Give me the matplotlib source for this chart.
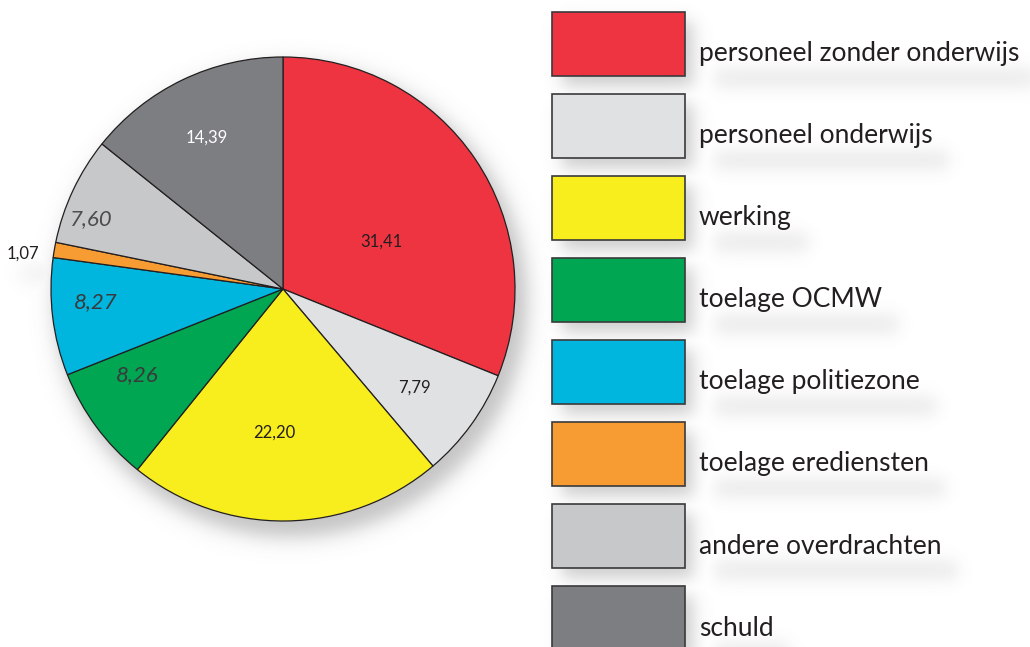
import matplotlib
matplotlib.use("Agg")
import matplotlib.pyplot as plt
import numpy as np
from matplotlib.patches import Rectangle

# data
categories = [
    "personeel zonder onderwijs",
    "personeel onderwijs",
    "werking",
    "toelage OCMW",
    "toelage politiezone",
    "toelage erediensten",
    "andere overdrachten",
    "schuld",
]
values = [31.41, 7.79, 22.20, 8.26, 8.27, 1.07, 7.60, 14.39]
value_labels = ["31,41", "7,79", "22,20", "8,26", "8,27", "1,07", "7,60", "14,39"]
colors = ["#EE3440", "#E0E1E3", "#F8EE1E", "#00A651", "#00B6DF",
          "#F69C33", "#C7C8CA", "#7D7E82"]

# label styling per slice (distance as fraction of radius, angle tweak in deg)
label_dist = [0.47, 0.71, 0.62, 0.73, 0.81, 1.13, 0.88, 0.73]
label_dangle = [-8, -1, -4, -6, -3, 2, 5, 1]
label_color = ["#231F20", "#231F20", "#231F20", "#3A3A3C", "#3A3A3C",
               "#231F20", "#4D4D4F", "white"]
label_style = ["normal", "normal", "normal", "italic", "italic",
               "normal", "italic", "normal"]
label_size = [12, 12, 12, 16, 16, 12, 16, 12]

W, H = 1030, 647
fig = plt.figure(figsize=(W / 100, H / 100), dpi=100)
ax = fig.add_axes([0, 0, 1, 1])

cx, cy, r = 283, H - 289, 232

wedges, _ = ax.pie(values, colors=colors, startangle=90, counterclock=False,
                   radius=r, center=(cx, cy),
                   wedgeprops=dict(edgecolor="#231F20", linewidth=0.9))
for w in wedges:
    w.set_zorder(2)

value_texts = []
for w, lab, d, da, c, st, fs in zip(wedges, value_labels, label_dist, label_dangle,
                                    label_color, label_style, label_size):
    ang = np.deg2rad((w.theta1 + w.theta2) / 2 + da)
    x = cx + np.cos(ang) * r * d
    y = cy + np.sin(ang) * r * d
    value_texts.append(ax.text(x, y, lab, ha="center", va="center", color=c,
                               fontsize=fs, fontstyle=st, family="Lato", zorder=3))

# legend boxes and labels
box_x, box_w, box_h = 552, 133, 64
top0, step = 12, 82
legend_texts = []
for i, (name, col) in enumerate(zip(categories, colors)):
    top = top0 + i * step
    y0 = H - top - box_h
    ax.add_patch(Rectangle((box_x, y0), box_w, box_h, facecolor=col,
                           edgecolor="#3A3A3C", linewidth=1.2, zorder=2))
    t = ax.text(699, H - top - 42, name, ha="left", va="center", fontsize=19,
                family="Lato", color="#231F20", zorder=3)
    legend_texts.append(t)

ax.set_xlim(0, W)
ax.set_ylim(0, H)
ax.set_aspect("equal")
ax.axis("off")

# soft drop shadows, built as one alpha image over the canvas
fig.canvas.draw()
yy, xx = np.mgrid[0:H, 0:W] + 0.5


def soft(v, s):
    return 1.0 / (1.0 + np.exp(-v / s))


def soft_box(x0, x1, y0, y1, s):
    return (soft(xx - x0, s) * soft(x1 - xx, s) *
            soft(yy - y0, s) * soft(y1 - yy, s))


shadow = np.zeros((H, W))
dist = np.hypot(xx - (cx + 8), yy - (cy - 12))
shadow = np.maximum(shadow, 0.36 * soft(r + 4 - dist, 6))
for i in range(len(categories)):
    top = top0 + i * step
    y0 = H - top - box_h
    shadow = np.maximum(shadow, 0.30 * soft_box(box_x + 10, box_x + box_w + 8,
                                                y0 - 10, y0 + box_h - 10, 5))
for t in legend_texts:
    bb = t.get_window_extent()
    mid = (bb.y0 + bb.y1) / 2 - 24
    shadow = np.maximum(shadow, 0.13 * soft_box(bb.x0 + 16, bb.x1 + 16,
                                                mid - 9, mid + 9, 5))
bb = value_texts[5].get_window_extent()
mid = (bb.y0 + bb.y1) / 2 - 20
shadow = np.maximum(shadow, 0.10 * soft_box(bb.x0 + 14, bb.x1 + 30,
                                            mid - 8, mid + 8, 6))

rgba = np.zeros((H, W, 4))
rgba[..., :3] = 0.35
rgba[..., 3] = shadow
ax.imshow(rgba, extent=(0, W, 0, H), origin="lower", zorder=0,
          interpolation="bilinear")
ax.set_xlim(0, W)
ax.set_ylim(0, H)

fig.savefig("out.png", dpi=100, facecolor="white")
